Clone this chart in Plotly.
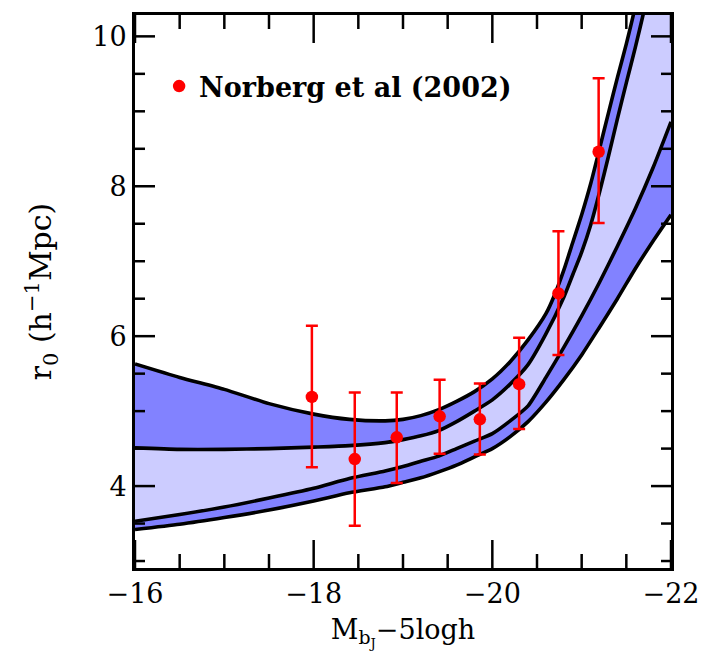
import plotly.graph_objects as go

# Model band curves
xA = [-16.0, -16.5, -17.0, -17.5, -18.0, -18.4, -18.8, -19.0, -19.2, -19.4, -19.6, -19.8, -20.0, -20.2, -20.4, -20.6, -20.7, -20.8, -20.9, -21.0, -21.1, -21.2, -21.3, -21.4, -21.5, -21.6, -21.7]
yA = [5.63, 5.45, 5.29, 5.10, 4.96, 4.89, 4.87, 4.89, 4.94, 5.02, 5.13, 5.26, 5.43, 5.66, 5.95, 6.30, 6.56, 6.88, 7.25, 7.62, 8.03, 8.50, 8.98, 9.45, 9.90, 10.40, 11.0]

xB = [-16.0, -16.5, -17.0, -17.5, -18.0, -18.4, -18.8, -19.0, -19.2, -19.4, -19.6, -19.8, -20.0, -20.2, -20.4, -20.6, -20.8, -20.9, -21.0, -21.1, -21.2, -21.3, -21.4, -21.5, -21.6, -21.7, -21.8, -22.0]
yB = [4.51, 4.49, 4.49, 4.50, 4.52, 4.54, 4.58, 4.62, 4.67, 4.74, 4.86, 5.00, 5.15, 5.36, 5.62, 6.03, 6.52, 6.82, 7.12, 7.48, 7.92, 8.40, 8.90, 9.38, 9.85, 10.35, 10.9, 12.0]

xC = [-16.0, -16.5, -17.0, -17.5, -18.0, -18.4, -18.8, -19.0, -19.2, -19.4, -19.6, -19.8, -20.0, -20.2, -20.4, -20.6, -20.8, -21.0, -21.2, -21.4, -21.6, -21.8, -22.0]
yC = [3.53, 3.62, 3.72, 3.84, 3.97, 4.10, 4.20, 4.26, 4.33, 4.40, 4.50, 4.60, 4.70, 4.87, 5.07, 5.45, 5.85, 6.27, 6.72, 7.20, 7.70, 8.25, 8.86]

xD = [-16.0, -16.5, -17.0, -17.5, -18.0, -18.4, -18.8, -19.0, -19.2, -19.4, -19.6, -19.8, -20.0, -20.2, -20.4, -20.6, -20.8, -21.0, -21.2, -21.4, -21.6, -21.8, -22.0]
yD = [3.42, 3.49, 3.58, 3.68, 3.80, 3.91, 3.99, 4.05, 4.11, 4.19, 4.28, 4.39, 4.50, 4.66, 4.86, 5.12, 5.42, 5.75, 6.12, 6.50, 6.90, 7.27, 7.62]

# Norberg et al (2002) data
x_obs = [-17.98, -18.46, -18.93, -19.41, -19.86, -20.30, -20.74, -21.19]
r0_obs = [5.19, 4.36, 4.65, 4.93, 4.89, 5.36, 6.57, 8.46]
err_hi = [0.95, 0.89, 0.60, 0.49, 0.48, 0.62, 0.83, 0.98]
err_lo = [0.94, 0.89, 0.61, 0.50, 0.47, 0.60, 0.82, 0.95]

# Axes
X_RANGE = [-16, -22]
Y_RANGE = [2.907, 10.285]
X_MAJOR = [-16, -18, -20, -22]
X_MINOR = [-16.5, -17.0, -17.5, -18.5, -19.0, -19.5, -20.5, -21.0, -21.5]
Y_MAJOR = [4, 6, 8, 10]
Y_MINOR = [3.0, 3.5, 4.5, 5.0, 5.5, 6.5, 7.0, 7.5, 8.5, 9.0, 9.5]

DARK = "#8282ff"
LIGHT = "#ccccff"
LINE = dict(color="black", width=3.6, shape="spline", smoothing=0.6)

fig = go.Figure()
fig.add_trace(go.Scatter(x=xD, y=yD, mode="lines", line=LINE, showlegend=False, hoverinfo="skip"))
fig.add_trace(go.Scatter(x=xC, y=yC, mode="lines", line=LINE, fill="tonexty", fillcolor=DARK, showlegend=False, hoverinfo="skip"))
fig.add_trace(go.Scatter(x=xB, y=yB, mode="lines", line=LINE, fill="tonexty", fillcolor=LIGHT, showlegend=False, hoverinfo="skip"))
fig.add_trace(go.Scatter(x=xA, y=yA, mode="lines", line=LINE, fill="tonexty", fillcolor=DARK, showlegend=False, hoverinfo="skip"))

fig.add_trace(go.Scatter(
    x=x_obs, y=r0_obs, mode="markers", name="Norberg et al (2002)",
    marker=dict(color="#ff0000", size=12.5),
    error_y=dict(type="data", symmetric=False, array=err_hi, arrayminus=err_lo,
                 color="#ff0000", thickness=2.5, width=6),
))

# x-axis tick marks (bottom and top edges): line markers centred on the frame,
# half of each clipped away by the plot area
for vals, size in ((X_MAJOR, 40), (X_MINOR, 20)):
    for edge in Y_RANGE:
        fig.add_trace(go.Scatter(
            x=vals, y=[edge] * len(vals), mode="markers", cliponaxis=True,
            marker=dict(symbol="line-ns", size=size, color="black",
                        line=dict(color="black", width=2.5)),
            showlegend=False, hoverinfo="skip"))

# y-axis tick marks on the left and right edges
TICK = dict(color="black", width=2.5)
shapes = []
for vals, L in ((Y_MAJOR, 20), (Y_MINOR, 10)):
    for v in vals:
        shapes.append(dict(type="line", xref="x domain", yref="y", y0=v, y1=v,
                           xsizemode="pixel", xanchor=0, x0=0, x1=L, line=TICK))
        shapes.append(dict(type="line", xref="x domain", yref="y", y0=v, y1=v,
                           xsizemode="pixel", xanchor=1, x0=0, x1=-L, line=TICK))

FONT = "DejaVu Serif"

fig.update_layout(
    width=711, height=666,
    margin=dict(l=135, r=36, t=12, b=98),
    paper_bgcolor="white", plot_bgcolor="white",
    showlegend=True,
    shapes=shapes,
    legend=dict(x=0.045, y=0.915, xanchor="left", yanchor="top",
                bgcolor="rgba(0,0,0,0)", borderwidth=0,
                font=dict(family=FONT, size=27, color="black", weight="bold")),
    xaxis=dict(
        range=X_RANGE, tickmode="array", tickvals=X_MAJOR,
        showline=True, linecolor="black", linewidth=3, mirror=True, ticks="",
        showgrid=False, zeroline=False,
        tickfont=dict(family=FONT, size=27, color="black"),
        title=dict(text="M<sub>b<sub>J</sub></sub>−5logh", font=dict(family=FONT, size=27, color="black"), standoff=12),
    ),
    yaxis=dict(
        range=Y_RANGE, tickmode="array", tickvals=Y_MAJOR, ticksuffix="\u2009\u2009",
        showline=True, linecolor="black", linewidth=3, mirror=True, ticks="",
        showgrid=False, zeroline=False,
        tickfont=dict(family=FONT, size=27, color="black"),
        title=dict(text="r<sub>0</sub> (h<sup>−1</sup>Mpc)", font=dict(family=FONT, size=30, color="black"), standoff=32),
    ),
)

fig.write_html("out.html")
